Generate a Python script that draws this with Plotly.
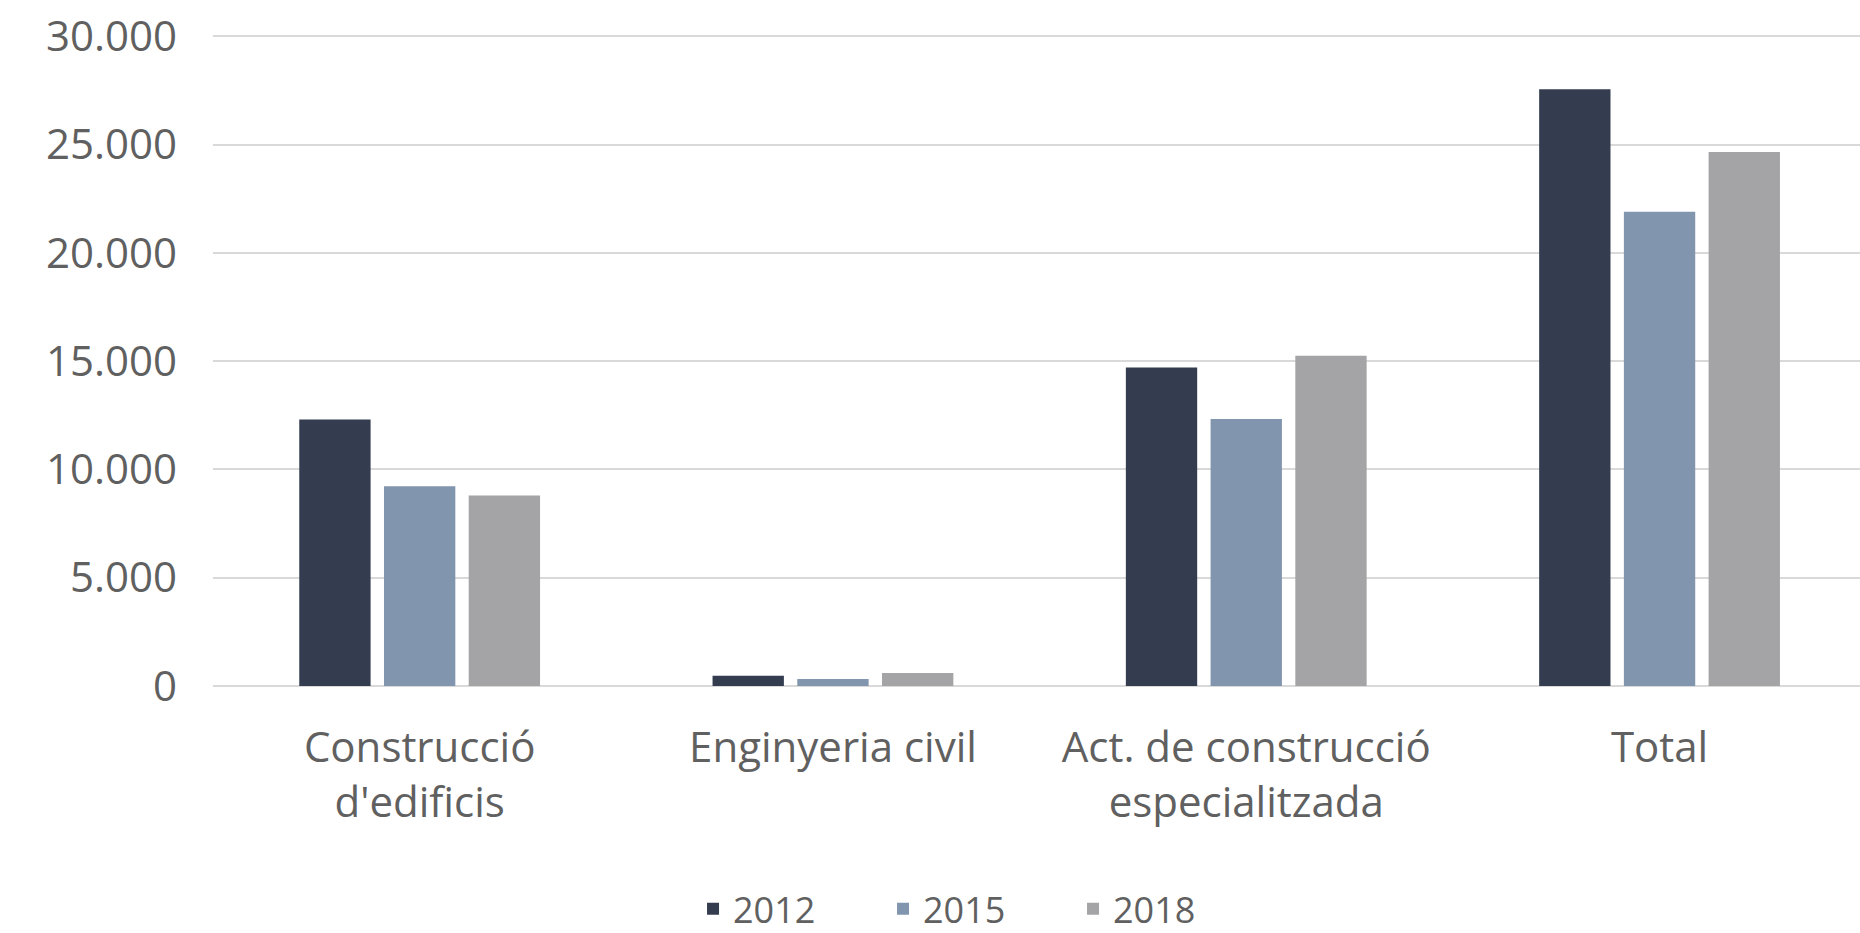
import plotly.graph_objects as go

categories = ["Construcció<br>d'edificis", "Enginyeria civil",
              "Act. de construcció<br>especialitzada", "Total"]
years = ["2012", "2015", "2018"]
values_2012 = [12300, 470, 14700, 27550]
values_2015 = [9220, 320, 12330, 21900]
values_2018 = [8790, 600, 15250, 24650]
colors = ["#343d4f", "#8295ae", "#a4a4a6"]

FONT = "Open Sans"
TEXT_COL = "#606060"

fig = go.Figure()

for year, vals, col in zip(years, [values_2012, values_2015, values_2018], colors):
    fig.add_trace(
        go.Bar(
            x=categories,
            y=vals,
            name=year,
            marker_color=col,
            marker_line_width=0
        )
    )

fig.update_layout(
    width=1860,
    height=933,
    margin=dict(l=213, r=0, t=33, b=247),
    paper_bgcolor="white",
    plot_bgcolor="white",
    separators=",.",
    barmode="group",
    bargap=0.385,
    bargroupgap=0.158,
    font=dict(family=FONT, color=TEXT_COL, size=38),
    legend=dict(
        orientation="h",
        x=0.4645,
        xanchor="center",
        yref="container",
        y=0.026,
        yanchor="middle",
        font=dict(size=36, color=TEXT_COL),
        entrywidth=145,
        entrywidthmode="pixels",
        traceorder="normal"
    ),
    showlegend=True
)

fig.update_xaxes(
    range=[-0.5, 3.485],
    showgrid=False,
    showline=False,
    ticks="",
    ticklabelstandoff=33,
    tickfont=dict(size=42, color=TEXT_COL)
)

fig.update_yaxes(
    range=[0, 30150],
    tickvals=[0, 5000, 10000, 15000, 20000, 25000, 30000],
    tickformat=",d",
    showgrid=True,
    gridcolor="#d9d9d9",
    gridwidth=2,
    zeroline=True,
    zerolinecolor="#d9d9d9",
    zerolinewidth=2,
    showline=False,
    ticks="",
    ticklabelstandoff=35,
    tickfont=dict(size=42, color=TEXT_COL)
)

fig.write_html(
    "out.html",
    config={"displayModeBar": False},
    post_script="document.body.style.margin='0';"
)
